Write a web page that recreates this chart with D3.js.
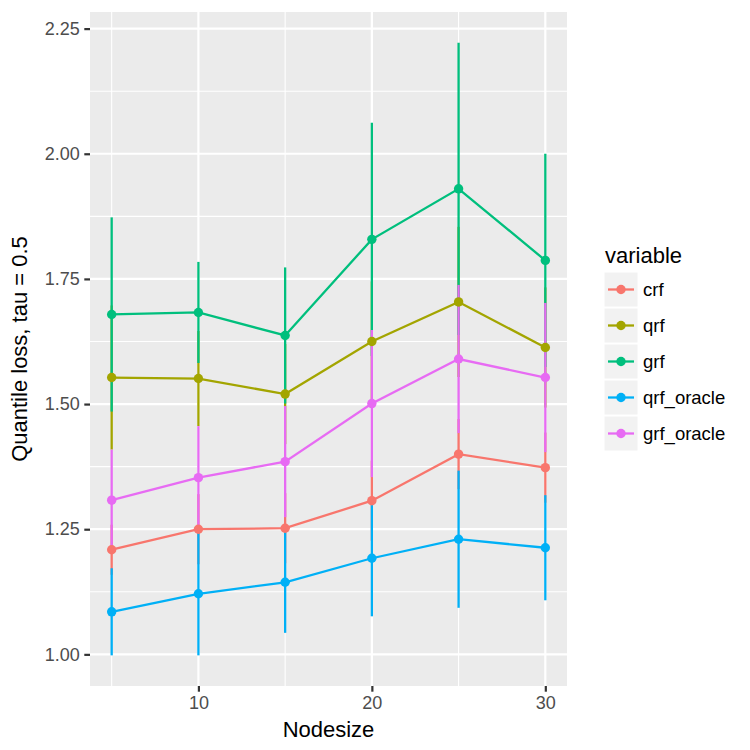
<!DOCTYPE html>
<html>
<head>
<meta charset="UTF-8">
<script src="https://d3js.org/d3.v7.min.js"></script>
<style>
  body { margin: 0; background: white; }
  svg text { font-family: "Liberation Sans", Arial, sans-serif; }
</style>
</head>
<body>
<div id="chart"></div>
<script>
// nodesize values on the x axis
const nodesize = [5, 10, 15, 20, 25, 30];
const seriesNames = ["crf", "qrf", "grf", "qrf_oracle", "grf_oracle"];
const colors = ["#F8766D", "#A3A500", "#00BF7D", "#00B0F6", "#E76BF3"];

// mean quantile loss for each method
const crfMean = [1.209, 1.250, 1.252, 1.307, 1.400, 1.373];
const qrfMean = [1.553, 1.551, 1.520, 1.625, 1.704, 1.613];
const grfMean = [1.679, 1.683, 1.637, 1.829, 1.930, 1.787];
const qrfOracleMean = [1.085, 1.121, 1.144, 1.192, 1.230, 1.213];
const grfOracleMean = [1.308, 1.353, 1.385, 1.501, 1.590, 1.553];

// half width of the error bars
const crfErr = [0.05, 0.07, 0.07, 0.08, 0.07, 0.07];
const qrfErr = [0.144, 0.095, 0.10, 0.12, 0.15, 0.12];
const grfErr = [0.194, 0.101, 0.136, 0.233, 0.292, 0.213];
const qrfOracleErr = [0.087, 0.123, 0.101, 0.116, 0.137, 0.105];
const grfOracleErr = [0.101, 0.103, 0.111, 0.147, 0.148, 0.149];

const xTicks = [10, 20, 30];
const xMinor = [5, 15, 25];
const yTicks = [1.00, 1.25, 1.50, 1.75, 2.00, 2.25];

const means = [crfMean, qrfMean, grfMean, qrfOracleMean, grfOracleMean];
const errs = [crfErr, qrfErr, grfErr, qrfOracleErr, grfOracleErr];

const series = seriesNames.map((name, i) => ({
    name: name,
    color: colors[i],
    values: nodesize.map((n, j) => ({ x: n, y: means[i][j], lo: means[i][j] - errs[i][j], hi: means[i][j] + errs[i][j] }))
}));

const W = 750, H = 750;
const panel = { left: 90, right: 567, top: 12, bottom: 686 };

const svg = d3.select("#chart").append("svg")
    .attr("width", W).attr("height", H);

// ggplot style 5% expansion
const xExt = d3.extent(nodesize);
const xPad = (xExt[1] - xExt[0]) * 0.05;
const x = d3.scaleLinear().domain([xExt[0] - xPad, xExt[1] + xPad]).range([panel.left, panel.right]);

const allVals = series.flatMap(s => s.values.flatMap(d => [d.lo, d.hi]));
const yExt = d3.extent(allVals);
const yPad = (yExt[1] - yExt[0]) * 0.05;
const y = d3.scaleLinear().domain([yExt[0] - yPad, yExt[1] + yPad]).range([panel.bottom, panel.top]);

// panel background
svg.append("rect")
    .attr("x", panel.left).attr("y", panel.top)
    .attr("width", panel.right - panel.left).attr("height", panel.bottom - panel.top)
    .attr("fill", "#EBEBEB");

const grid = svg.append("g");
const yMinor = d3.pairs(yTicks).map(p => (p[0] + p[1]) / 2);
grid.selectAll(".ymin").data(yMinor).join("line")
    .attr("x1", panel.left).attr("x2", panel.right)
    .attr("y1", d => y(d)).attr("y2", d => y(d))
    .attr("stroke", "white").attr("stroke-width", 1.1);
grid.selectAll(".xmin").data(xMinor).join("line")
    .attr("y1", panel.top).attr("y2", panel.bottom)
    .attr("x1", d => x(d)).attr("x2", d => x(d))
    .attr("stroke", "white").attr("stroke-width", 1.1);
grid.selectAll(".ymaj").data(yTicks).join("line")
    .attr("x1", panel.left).attr("x2", panel.right)
    .attr("y1", d => y(d)).attr("y2", d => y(d))
    .attr("stroke", "white").attr("stroke-width", 2.2);
grid.selectAll(".xmaj").data(xTicks).join("line")
    .attr("y1", panel.top).attr("y2", panel.bottom)
    .attr("x1", d => x(d)).attr("x2", d => x(d))
    .attr("stroke", "white").attr("stroke-width", 2.2);

// axes
const yAxis = svg.append("g")
    .attr("transform", `translate(${panel.left},0)`)
    .call(d3.axisLeft(y).tickValues(yTicks).tickFormat(d3.format(".2f")).tickSize(5.7).tickPadding(4.6));
const xAxis = svg.append("g")
    .attr("transform", `translate(0,${panel.bottom})`)
    .call(d3.axisBottom(x).tickValues(xTicks).tickFormat(d3.format("d")).tickSize(5.7).tickPadding(4.6));
[xAxis, yAxis].forEach(a => {
    a.select(".domain").remove();
    a.selectAll("line").attr("stroke", "#333333").attr("stroke-width", 2.2);
    a.selectAll("text").attr("fill", "#4D4D4D").style("font-size", "18px");
});

// error bars
const plot = svg.append("g");
series.forEach(s => {
    plot.append("g").selectAll("line").data(s.values).join("line")
        .attr("x1", d => x(d.x)).attr("x2", d => x(d.x))
        .attr("y1", d => y(d.lo)).attr("y2", d => y(d.hi))
        .attr("stroke", s.color).attr("stroke-width", 2.3);
});

const line = d3.line().x(d => x(d.x)).y(d => y(d.y));
series.forEach(s => {
    plot.append("path").datum(s.values)
        .attr("d", line)
        .attr("fill", "none")
        .attr("stroke", s.color).attr("stroke-width", 2.3);
});
series.forEach(s => {
    plot.append("g").selectAll("circle").data(s.values).join("circle")
        .attr("cx", d => x(d.x)).attr("cy", d => y(d.y))
        .attr("r", 4.7).attr("fill", s.color);
});

// axis titles
svg.append("text")
    .attr("x", (panel.left + panel.right) / 2).attr("y", 737)
    .attr("text-anchor", "middle")
    .style("font-size", "22px")
    .text("Nodesize");
svg.append("text")
    .attr("transform", `translate(27,${(panel.top + panel.bottom) / 2}) rotate(-90)`)
    .attr("text-anchor", "middle")
    .style("font-size", "22px")
    .text("Quantile loss, tau = 0.5");

// legend
const legend = svg.append("g").attr("transform", "translate(604,0)");
legend.append("text")
    .attr("x", 1).attr("y", 263)
    .style("font-size", "22px")
    .text("variable");
const keys = legend.selectAll(".key").data(series).join("g")
    .attr("transform", (d, i) => `translate(0,${272 + i * 36})`);
keys.append("rect")
    .attr("width", 34).attr("height", 35)
    .attr("fill", "#F2F2F2").attr("stroke", "white").attr("stroke-width", 1);
keys.append("line")
    .attr("x1", 4).attr("x2", 30).attr("y1", 17.5).attr("y2", 17.5)
    .attr("stroke", d => d.color).attr("stroke-width", 2.3);
keys.append("circle")
    .attr("cx", 17).attr("cy", 17.5).attr("r", 4.7)
    .attr("fill", d => d.color);
keys.append("text")
    .attr("x", 39).attr("y", 17.5).attr("dy", "0.35em")
    .style("font-size", "18.5px")
    .text(d => d.name);
</script>
</body>
</html>
